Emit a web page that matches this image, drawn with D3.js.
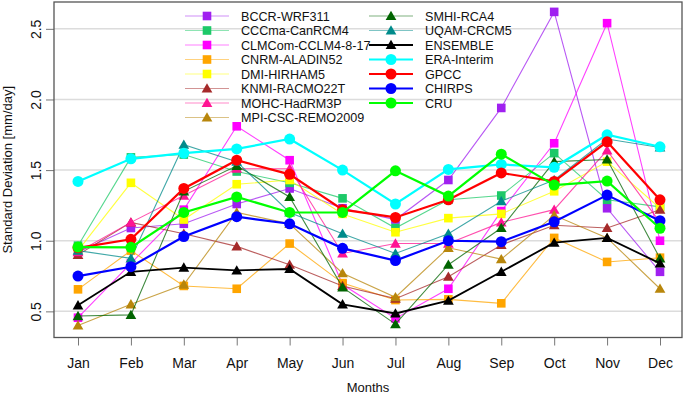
<!DOCTYPE html>
<html>
<head>
<meta charset="utf-8">
<script src="https://cdn.jsdelivr.net/npm/d3@7"></script>
<style>
  body { margin: 0; background: #fff; }
  text { font-family: "Liberation Sans", Arial, sans-serif; fill: #111; }
</style>
</head>
<body>
<div id="chart"></div>
<script>
// months on the x axis
const months = ["Jan", "Feb", "Mar", "Apr", "May", "Jun", "Jul", "Aug", "Sep", "Oct", "Nov", "Dec"];

// standard deviation per month, one array per model / dataset
const bccr     = [0.92, 1.09, 1.12, 1.26, 1.37, 1.23, 1.15, 1.43, 1.94, 2.62, 1.23, 0.78];
const cccma    = [0.965, 1.59, 1.61, 1.49, 1.41, 1.30, 1.09, 1.29, 1.32, 1.62, 1.29, 1.24];
const clmcom   = [0.455, 0.84, 1.22, 1.81, 1.57, 0.69, 0.45, 0.66, 1.21, 1.69, 2.54, 1.00];
const cnrm     = [0.656, 0.93, 0.68, 0.66, 0.98, 0.70, 0.58, 0.585, 0.557, 1.02, 0.85, 0.88];
const dmi      = [0.93, 1.41, 1.15, 1.40, 1.43, 1.19, 1.06, 1.16, 1.19, 1.35, 1.56, 1.23];
const knmi     = [0.90, 1.13, 1.05, 0.96, 0.83, 0.68, 0.59, 0.745, 0.97, 1.11, 1.09, 1.22];
const mohc     = [0.92, 1.13, 1.32, 1.51, 1.51, 0.91, 0.98, 0.98, 1.13, 1.22, 1.64, 1.13];
const mpi      = [0.40, 0.55, 0.69, 1.20, 1.12, 0.77, 0.60, 0.95, 0.87, 1.18, 1.02, 0.66];
const smhi     = [0.467, 0.475, 1.35, 1.53, 1.31, 0.67, 0.41, 0.83, 1.09, 1.56, 1.575, 0.875];
const uqam     = [0.93, 0.875, 1.68, 1.56, 1.20, 1.05, 0.91, 1.05, 1.28, 1.43, 1.72, 1.66];
const ensemble = [0.543, 0.78, 0.81, 0.79, 0.80, 0.55, 0.485, 0.576, 0.78, 0.986, 1.02, 0.84];
const era      = [1.42, 1.58, 1.62, 1.65, 1.72, 1.50, 1.26, 1.505, 1.54, 1.52, 1.75, 1.665];
const gpcc     = [0.95, 1.01, 1.37, 1.57, 1.47, 1.22, 1.165, 1.29, 1.48, 1.42, 1.70, 1.29];
const chirps   = [0.75, 0.816, 1.03, 1.17, 1.12, 0.946, 0.86, 1.00, 0.993, 1.134, 1.323, 1.142];
const cru      = [0.955, 0.953, 1.20, 1.31, 1.20, 1.20, 1.495, 1.316, 1.613, 1.394, 1.422, 1.088];

const seriesNames = ["BCCR-WRF311", "CCCma-CanRCM4", "CLMCom-CCLM4-8-17", "CNRM-ALADIN52", "DMI-HIRHAM5",
    "KNMI-RACMO22T", "MOHC-HadRM3P", "MPI-CSC-REMO2009", "SMHI-RCA4", "UQAM-CRCM5",
    "ENSEMBLE", "ERA-Interim", "GPCC", "CHIRPS", "CRU"];
const seriesValues = [bccr, cccma, clmcom, cnrm, dmi, knmi, mohc, mpi, smhi, uqam, ensemble, era, gpcc, chirps, cru];

const yTicks = [0.5, 1.0, 1.5, 2.0, 2.5];

// styling
const colors = ["#a020f0", "#1dc968", "#ff00ff", "#ffa500", "#ffff00",
    "#a52a2a", "#ff1493", "#b8860b", "#006400", "#008b8b",
    "#000000", "#00ffff", "#ff0000", "#0000ff", "#00ff00"];
const shapes = ["sq", "sq", "sq", "sq", "sq", "tri", "tri", "tri", "tri", "tri", "tri", "circ", "circ", "circ", "circ"];
const kind = ["model", "model", "model", "model", "model", "model", "model", "model", "model", "model", "ens", "obs", "obs", "obs", "obs"];

const width = 685, height = 394;
const plot = { left: 54, right: 682, top: 2, bottom: 337.5 };

const svg = d3.select("#chart").append("svg")
    .attr("width", width)
    .attr("height", height);

const x = d3.scalePoint()
    .domain(months)
    .range([78, 660]);

const y = d3.scaleLinear()
    .domain([0.315, 2.69])
    .range([plot.bottom, plot.top]);

// grid lines
svg.append("g")
    .selectAll("line")
    .data(yTicks)
    .join("line")
    .attr("x1", plot.left)
    .attr("x2", plot.right)
    .attr("y1", d => y(d))
    .attr("y2", d => y(d))
    .attr("stroke", "#dcdcdc")
    .attr("stroke-width", 1.5);

// y axis (R style: rotated labels)
const yAxis = svg.append("g")
    .attr("transform", `translate(${plot.left},0)`)
    .call(d3.axisLeft(y).tickValues(yTicks).tickFormat(d3.format(".1f")).tickSize(8).tickPadding(4));
yAxis.select(".domain").remove();
yAxis.selectAll(".tick line").attr("stroke", "#777");
yAxis.selectAll(".tick text")
    .attr("x", null).attr("dy", null)
    .attr("text-anchor", "middle")
    .attr("transform", "translate(-18,0) rotate(-90)")
    .style("font-size", "14px")
    .attr("dy", "0.35em")
    .style("font-family", "'Liberation Sans', Arial, sans-serif");

// x axis
const xAxis = svg.append("g")
    .attr("transform", `translate(0,${plot.bottom})`)
    .call(d3.axisBottom(x).tickSize(8).tickPadding(13));
xAxis.select(".domain").remove();
xAxis.selectAll(".tick line").attr("stroke", "#777");
xAxis.selectAll(".tick text")
    .style("font-size", "14px")
    .style("font-family", "'Liberation Sans', Arial, sans-serif");

// frame
svg.append("rect")
    .attr("x", plot.left)
    .attr("y", plot.top)
    .attr("width", plot.right - plot.left)
    .attr("height", plot.bottom - plot.top)
    .attr("fill", "none")
    .attr("stroke", "#555")
    .attr("stroke-width", 1.3);

// axis titles
svg.append("text")
    .attr("x", (plot.left + plot.right) / 2)
    .attr("y", 392)
    .attr("text-anchor", "middle")
    .style("font-size", "13px")
    .text("Months");

svg.append("text")
    .attr("transform", `translate(12,${(plot.top + plot.bottom) / 2}) rotate(-90)`)
    .attr("text-anchor", "middle")
    .style("font-size", "13px")
    .text("Standard Deviation [mm/day]");

// marker helper
function drawMarker(g, shape, color, cx, cy) {
    if (shape === "sq") {
        g.append("rect")
            .attr("x", cx - 4.3).attr("y", cy - 4.3)
            .attr("width", 8.6).attr("height", 8.6)
            .attr("fill", color);
    } else if (shape === "tri") {
        g.append("path")
            .attr("d", d3.symbol().type(d3.symbolTriangle).size(50)())
            .attr("transform", `translate(${cx},${cy + 1})`)
            .attr("fill", color);
    } else {
        g.append("circle")
            .attr("cx", cx).attr("cy", cy).attr("r", 5.5)
            .attr("fill", color);
    }
}

const line = d3.line()
    .x((d, i) => x(months[i]))
    .y(d => y(d));

const lineWidth = k => k === "model" ? 1.1 : (k === "ens" ? 1.8 : 2.2);
const lineOpacity = k => k === "model" ? 0.75 : 1;

// series
seriesValues.forEach((vals, s) => {
    const g = svg.append("g");
    g.append("path")
        .datum(vals)
        .attr("d", line)
        .attr("fill", "none")
        .attr("stroke", colors[s])
        .attr("stroke-width", lineWidth(kind[s]))
        .attr("stroke-opacity", lineOpacity(kind[s]));
    vals.forEach((v, i) => drawMarker(g, shapes[s], colors[s], x(months[i]), y(v)));
});

// legend
const legend = svg.append("g");
const rowH = 14.5;
seriesNames.forEach((name, s) => {
    const col = s < 8 ? 0 : 1;
    const row = s < 8 ? s : s - 8;
    const lx = col === 0 ? 185 : 369;
    const ly = 16 + row * rowH;
    legend.append("line")
        .attr("x1", lx).attr("x2", lx + 44)
        .attr("y1", ly).attr("y2", ly)
        .attr("stroke", colors[s])
        .attr("stroke-width", lineWidth(kind[s]))
        .attr("stroke-opacity", kind[s] === "model" ? 0.5 : 1);
    drawMarker(legend, shapes[s], colors[s], lx + 22, ly);
    legend.append("text")
        .attr("x", lx + 56)
        .attr("y", ly)
        .attr("dy", "0.36em")
        .style("font-size", "12.6px")
        .text(name);
});
</script>
</body>
</html>
